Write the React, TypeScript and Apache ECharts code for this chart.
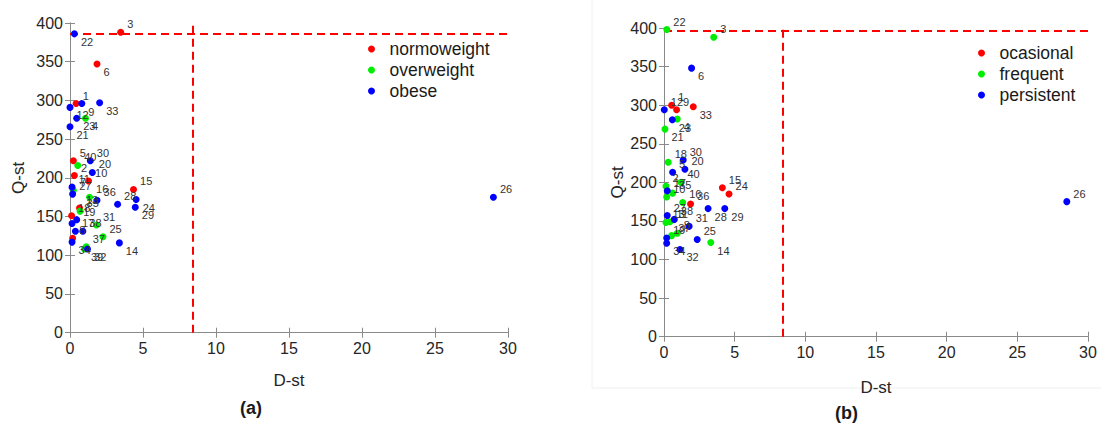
import React, { useEffect, useRef } from "react";
import * as echarts from "echarts";

type Pt = [string, number, number]; // [subject label, D-st, Q-st]

// ---------- axis settings ----------
const X_MIN = 0;
const X_MAX = 30;
const X_INTERVAL = 5;
const Y_MIN = 0;
const Y_MAX = 400;
const Y_INTERVAL = 50;

// ---------- chart (a): BMI groups ----------
const normoweight: Pt[] = [
  ["3", 3.47, 388], ["6", 1.85, 347], ["1", 0.42, 296], ["5", 0.23, 222],
  ["2", 0.3, 203], ["10", 1.27, 196], ["15", 4.35, 185], ["13", 0.65, 161],
  ["18", 0.11, 151], ["8", 0.18, 122],
];
const overweight: Pt[] = [
  ["4", 1.06, 277], ["40", 0.53, 216], ["7", 0.23, 184], ["16", 1.34, 175],
  ["35", 0.69, 157], ["31", 1.81, 139], ["25", 2.26, 124], ["37", 1.11, 111],
  ["39", 0.99, 108],
];
const obese: Pt[] = [
  ["22", 0.3, 386], ["9", 0.81, 296], ["12", 0, 291], ["33", 2.03, 297],
  ["23", 0.46, 277], ["21", 0, 266], ["30", 1.39, 222], ["20", 1.53, 207],
  ["11", 0.14, 188], ["27", 0.18, 179], ["36", 1.85, 171], ["28", 3.26, 166],
  ["24", 4.53, 172], ["29", 4.47, 162], ["19", 0.46, 146], ["", 0.14, 141],
  ["17", 0.37, 131], ["38", 0.88, 131], ["14", 3.38, 116], ["34", 0.14, 117],
  ["32", 1.2, 108], ["26", 29.0, 175],
];
const A_D_LIMIT = 8.4;
const A_Q_LIMIT = 386;
const A_LABELS_BELOW = ["22", "6", "33", "21", "23", "4", "24", "29", "14", "32", "12", "9", "34", "39"];

// ---------- chart (b): frequency groups ----------
const ocasional: Pt[] = [
  ["1", 0.54, 300], ["9", 0.89, 294], ["33", 2.07, 298], ["15", 4.13, 193],
  ["24", 4.6, 185], ["36", 1.88, 172],
];
const frequent: Pt[] = [
  ["22", 0.2, 398], ["3", 3.52, 388], ["4", 0.94, 282], ["21", 0.07, 269],
  ["18", 0.3, 226], ["40", 1.2, 200], ["2", 0.14, 195], ["35", 0.61, 186],
  ["10", 0.19, 181], ["16", 1.32, 174], ["13", 0.14, 148], ["11", 0.42, 149],
  ["8", 0.94, 134], ["37", 0.54, 131], ["14", 3.31, 122],
];
const persistent: Pt[] = [
  ["6", 1.95, 348], ["12", 0.02, 294], ["23", 0.59, 281], ["30", 1.36, 229],
  ["20", 1.48, 217], ["5", 0.61, 213], ["17", 0.23, 189], ["28", 3.12, 166],
  ["29", 4.3, 166], ["27", 0.23, 157], ["38", 0.73, 152], ["31", 1.78, 143],
  ["19", 0.19, 128], ["25", 2.35, 126], ["34", 0.19, 121], ["32", 1.13, 113],
  ["26", 28.5, 175],
];
const B_D_LIMIT = 8.4;
const B_Q_LIMIT = 396;
const B_LABELS_BELOW = ["6", "33", "21", "4", "28", "29", "14", "32", "34", "23"];

const RED = "#ff0000";
const GREEN = "#00ee00";
const BLUE = "#0000ff";
const FONT = "'Liberation Sans', Arial, Helvetica, sans-serif";
const AXIS_GRAY = "#8a8a8a";
const TEXT = "#262626";

function xAxes(gridIndex: number, nameGap: number) {
  const common = {
    gridIndex,
    type: "value" as const,
    min: X_MIN,
    max: X_MAX,
    interval: X_INTERVAL,
    splitLine: { show: false },
    axisLine: { show: true, lineStyle: { color: AXIS_GRAY, width: 1 } },
    axisTick: { show: true, inside: true, length: 5, lineStyle: { color: AXIS_GRAY } },
  };
  return [
    {
      ...common,
      position: "bottom",
      name: "D-st",
      nameLocation: "middle",
      nameGap,
      nameTextStyle: { fontSize: 17, color: TEXT, fontFamily: FONT },
      axisLabel: { fontSize: 16, color: TEXT, fontFamily: FONT, margin: 8 },
    },
    { ...common, position: "top", axisLabel: { show: false } },
  ];
}

function yAxes(gridIndex: number, nameGap: number) {
  const common = {
    gridIndex,
    type: "value" as const,
    min: Y_MIN,
    max: Y_MAX,
    interval: Y_INTERVAL,
    splitLine: { show: false },
    axisLine: { show: true, lineStyle: { color: AXIS_GRAY, width: 1 } },
    axisTick: { show: true, inside: true, length: 5, lineStyle: { color: AXIS_GRAY } },
  };
  return [
    {
      ...common,
      position: "left",
      name: "Q-st",
      nameLocation: "middle",
      nameGap,
      nameTextStyle: { fontSize: 17, color: TEXT, fontFamily: FONT },
      axisLabel: { fontSize: 16, color: TEXT, fontFamily: FONT, margin: 7 },
    },
    { ...common, position: "right", axisLabel: { show: false } },
  ];
}

function scatter(
  name: string,
  pts: Pt[],
  color: string,
  axisIdx: number,
  below: string[],
  markLine?: any
) {
  return {
    type: "scatter",
    name,
    xAxisIndex: axisIdx,
    yAxisIndex: axisIdx,
    symbol: "circle",
    symbolSize: 7,
    itemStyle: { color, opacity: 1 },
    z: 3,
    label: {
      show: true,
      position: "right",
      distance: 3,
      formatter: "{b}",
      fontSize: 11,
      color: "#333333",
      fontFamily: FONT,
    },
    data: pts.map(([lbl, d, q]) => ({
      name: lbl,
      value: [d, q],
      label: { offset: [0, below.includes(lbl) ? 8 : -8] },
    })),
    ...(markLine ? { markLine } : {}),
  };
}

function limitLines(dLimit: number, qLimit: number) {
  return {
    silent: true,
    symbol: "none",
    label: { show: false },
    z: 2,
    lineStyle: { color: RED, type: [8, 5], width: 2 },
    data: [{ xAxis: dLimit }, { yAxis: qLimit }],
  };
}

function legend(names: string[], left: number, top: number) {
  return {
    data: names,
    orient: "vertical",
    left,
    top,
    icon: "circle",
    itemWidth: 26,
    itemHeight: 7,
    itemGap: 0,
    selectedMode: false,
    textStyle: { fontSize: 17.5, lineHeight: 21, color: "#1a1a1a", fontFamily: FONT },
  };
}

export default function App() {
  const ref = useRef<HTMLDivElement>(null);

  useEffect(() => {
    if (!ref.current) return;
    const chart = echarts.init(ref.current, undefined, { renderer: "svg" });
    const xa = xAxes(0, 39);
    const xb = xAxes(1, 42);
    const ya = yAxes(0, 43);
    const yb = yAxes(1, 36);
    chart.setOption({
      animation: false,
      backgroundColor: "#ffffff",
      grid: [
        { left: 70, top: 23, width: 438, height: 309.7 },
        { left: 664, top: 28, width: 424, height: 308.7 },
      ],
      xAxis: [xa[0], xa[1], xb[0], xb[1]],
      yAxis: [ya[0], ya[1], yb[0], yb[1]],
      legend: [
        legend(["normoweight", "overweight", "obese"], 363, 33.5),
        legend(["ocasional", "frequent", "persistent"], 973, 37.5),
      ],
      series: [
        scatter("normoweight", normoweight, RED, 0, A_LABELS_BELOW, limitLines(A_D_LIMIT, A_Q_LIMIT)),
        scatter("overweight", overweight, GREEN, 0, A_LABELS_BELOW),
        scatter("obese", obese, BLUE, 0, A_LABELS_BELOW),
        scatter("ocasional", ocasional, RED, 2, B_LABELS_BELOW, limitLines(B_D_LIMIT, B_Q_LIMIT)),
        scatter("frequent", frequent, GREEN, 2, B_LABELS_BELOW),
        scatter("persistent", persistent, BLUE, 2, B_LABELS_BELOW),
      ],
      graphic: [
        {
          type: "rect",
          shape: { x: 592, y: -2, width: 520, height: 390 },
          style: { fill: "none", stroke: "#f0f0f0", lineWidth: 1 },
          silent: true,
          z: 0,
        },
        {
          type: "text",
          left: 240,
          top: 399,
          style: { text: "(a)", fontSize: 18, fontWeight: "bold", fill: "#1a1a1a", fontFamily: FONT },
        },
        {
          type: "text",
          left: 835,
          top: 404,
          style: { text: "(b)", fontSize: 18, fontWeight: "bold", fill: "#1a1a1a", fontFamily: FONT },
        },
      ],
    });
    return () => chart.dispose();
  }, []);

  return (
    <div
      ref={ref}
      style={{ position: "fixed", left: 0, top: 0, width: 1101, height: 428, background: "#fff" }}
    />
  );
}
